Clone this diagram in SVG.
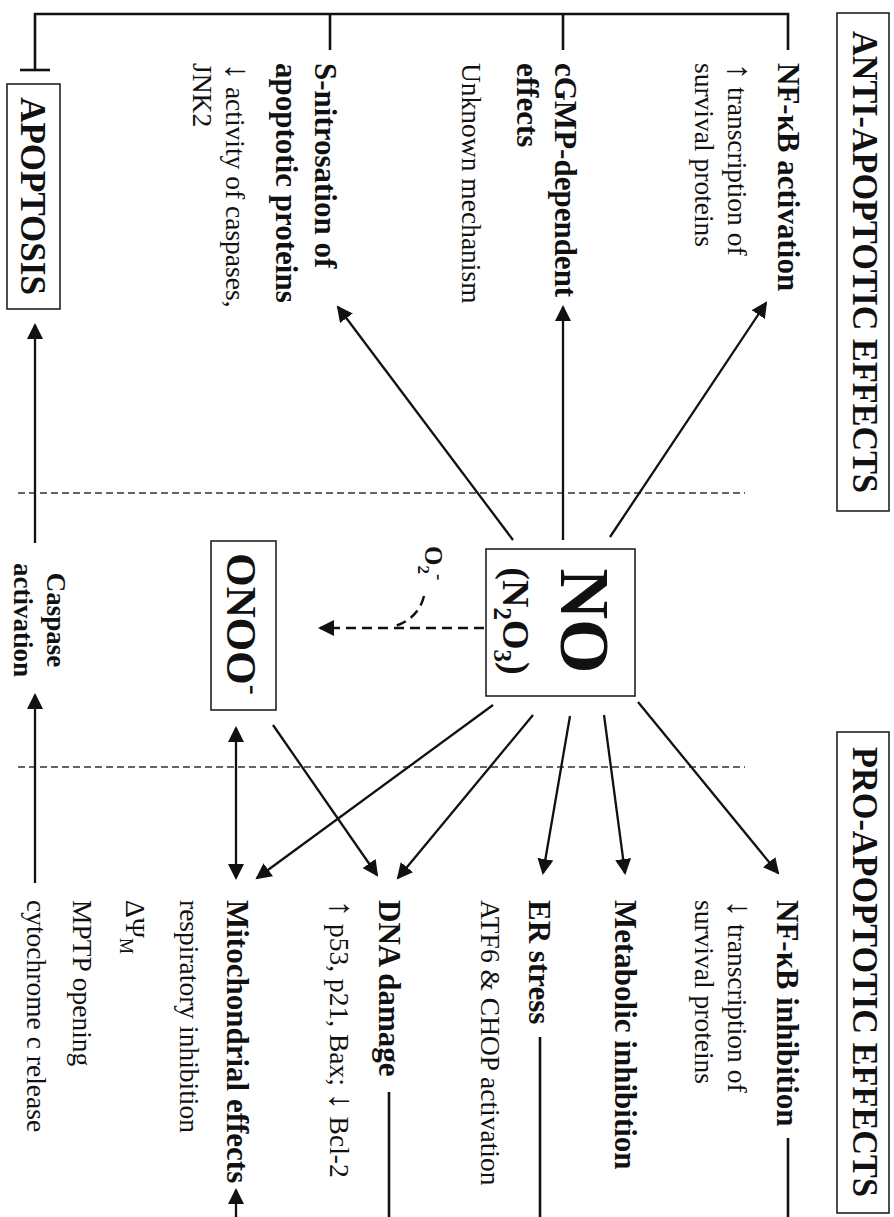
<svg xmlns="http://www.w3.org/2000/svg" width="894" height="1217" viewBox="0 0 894 1217">
<style>
text{font-family:"Liberation Serif","Times New Roman",serif;fill:#111}
.b{font-weight:bold;font-size:31px}
.r{font-size:27.5px}
.t{font-weight:bold;font-size:35px}
.ar{font-size:34px}
.box{fill:none;stroke:#222;stroke-width:1.6}
.ln{fill:none;stroke:#111;stroke-width:2.3}
.br{fill:none;stroke:#111;stroke-width:2.6}
.sep{fill:none;stroke:#333;stroke-width:1.5;stroke-dasharray:7 4}
.dash{fill:none;stroke:#111;stroke-width:2.5;stroke-dasharray:10 6}
</style>
<defs>
<marker id="ah" markerUnits="userSpaceOnUse" markerWidth="18" markerHeight="16" refX="14" refY="8" orient="auto-start-reverse"><path d="M0,0 L16,8 L0,16 z" fill="#111"/></marker>
</defs>
<rect width="894" height="1217" fill="#fff"/>

<g id="connectors">
<line class="sep" x1="18" y1="493" x2="745" y2="493"/>
<line class="sep" x1="18" y1="767" x2="745" y2="767"/>
<polyline class="br" points="788,50 788,14 35,14 35,70"/>
<line class="br" x1="20" y1="70" x2="50" y2="70"/>
<line class="br" x1="563" y1="14" x2="563" y2="50"/>
<line class="br" x1="330" y1="14" x2="330" y2="50"/>
<line class="br" x1="788" y1="1138" x2="788" y2="1217"/>
<line class="br" x1="540" y1="1037" x2="540" y2="1217"/>
<line class="br" x1="389" y1="1092" x2="389" y2="1217"/>
<line class="ln" x1="236" y1="1217" x2="236" y2="1190" marker-end="url(#ah)"/>
<line class="ln" x1="610" y1="537" x2="766" y2="303" marker-end="url(#ah)"/>
<line class="ln" x1="563" y1="540" x2="563" y2="307" marker-end="url(#ah)"/>
<line class="ln" x1="513" y1="540" x2="338" y2="307" marker-end="url(#ah)"/>
<line class="ln" x1="638" y1="702" x2="778" y2="873" marker-end="url(#ah)"/>
<line class="ln" x1="604" y1="715" x2="625" y2="873" marker-end="url(#ah)"/>
<line class="ln" x1="570" y1="716" x2="543" y2="873" marker-end="url(#ah)"/>
<line class="ln" x1="533" y1="715" x2="398" y2="878" marker-end="url(#ah)"/>
<line class="ln" x1="493" y1="705" x2="257" y2="878" marker-end="url(#ah)"/>
<line class="ln" x1="273" y1="725" x2="377" y2="875" marker-end="url(#ah)"/>
<line class="ln" x1="236" y1="728" x2="236" y2="878" marker-start="url(#ah)" marker-end="url(#ah)"/>
<line class="ln" x1="35" y1="543" x2="35" y2="325" marker-end="url(#ah)"/>
<line class="ln" x1="35" y1="883" x2="35" y2="695" marker-end="url(#ah)"/>
<line class="dash" x1="484" y1="628" x2="320" y2="628" marker-end="url(#ah)"/>
<path class="dash" d="M424,596 Q418,620 392,627" stroke-dasharray="8 6"/>
<text class="b" style="font-size:25px" x="425" y="546" transform="rotate(90 425 546)">O<tspan dy="7" font-size="17">2</tspan><tspan dy="-15" font-size="19">-</tspan></text>
</g>

<g id="anti-title">
<rect class="box" x="837" y="13" width="52" height="498"/>
<text class="t" x="853" y="262" text-anchor="middle" transform="rotate(90 853 262)" textLength="462" lengthAdjust="spacingAndGlyphs">ANTI-APOPTOTIC EFFECTS</text>
</g>
<g id="pro-title">
<rect class="box" x="837" y="732" width="52" height="481"/>
<text class="t" x="853" y="972" text-anchor="middle" transform="rotate(90 853 972)" textLength="450" lengthAdjust="spacingAndGlyphs">PRO-APOPTOTIC EFFECTS</text>
</g>

<g id="nfkb-activation">
<text class="b" x="778" y="63" transform="rotate(90 778 63)">NF-κB activation</text>
<text class="r" x="728" y="63" transform="rotate(90 728 63)"><tspan class="ar">↑</tspan> transcription of</text>
<text class="r" x="695" y="63" transform="rotate(90 695 63)">survival proteins</text>
</g>
<g id="cgmp">
<text class="b" x="555" y="63" transform="rotate(90 555 63)">cGMP-dependent</text>
<text class="b" x="517" y="63" transform="rotate(90 517 63)">effects</text>
<text class="r" x="462" y="63" transform="rotate(90 462 63)">Unknown mechanism</text>
</g>
<g id="s-nitrosation">
<text class="b" x="315" y="63" transform="rotate(90 315 63)">S-nitrosation of</text>
<text class="b" x="276" y="63" transform="rotate(90 276 63)">apoptotic proteins</text>
<text class="r" x="226" y="63" transform="rotate(90 226 63)"><tspan class="ar">↓</tspan> activity of caspases,</text>
<text class="r" x="193" y="63" transform="rotate(90 193 63)">JNK2</text>
</g>
<g id="apoptosis">
<rect class="box" x="7" y="84" width="53" height="225"/>
<text class="b" style="font-size:35px" x="21" y="196" text-anchor="middle" transform="rotate(90 21 196)">APOPTOSIS</text>
</g>
<g id="caspase">
<text class="b" style="font-size:27px" x="47" y="620" text-anchor="middle" transform="rotate(90 47 620)">Caspase</text>
<text class="b" style="font-size:27px" x="14" y="620" text-anchor="middle" transform="rotate(90 14 620)">activation</text>
</g>
<g id="onoo">
<rect class="box" x="211" y="541" width="65" height="169"/>
<text class="b" style="font-size:43px" x="227" y="624" text-anchor="middle" transform="rotate(90 227 624)">ONOO<tspan dy="-17" font-size="30">-</tspan></text>
</g>
<g id="no">
<rect class="box" x="486" y="549" width="149" height="147"/>
<text class="b" style="font-size:70px" x="561" y="621" text-anchor="middle" transform="rotate(90 561 621)">NO</text>
<text class="b" style="font-size:38px" x="503" y="621" text-anchor="middle" transform="rotate(90 503 621)">(N<tspan dy="9" font-size="25">2</tspan><tspan dy="-9">O</tspan><tspan dy="9" font-size="25">3</tspan><tspan dy="-9">)</tspan></text>
</g>

<g id="nfkb-inhibition">
<text class="b" x="777" y="900" transform="rotate(90 777 900)">NF-κB inhibition</text>
<text class="r" x="728" y="900" transform="rotate(90 728 900)"><tspan class="ar">↓</tspan> transcription of</text>
<text class="r" x="695" y="900" transform="rotate(90 695 900)">survival proteins</text>
</g>
<g id="metabolic">
<text class="b" x="615" y="900" transform="rotate(90 615 900)">Metabolic inhibition</text>
</g>
<g id="er-stress">
<text class="b" x="529" y="900" transform="rotate(90 529 900)">ER stress</text>
<text class="r" x="481" y="900" transform="rotate(90 481 900)">ATF6 &amp; CHOP activation</text>
</g>
<g id="dna-damage">
<text class="b" x="379" y="900" transform="rotate(90 379 900)">DNA damage</text>
<text class="r" x="330" y="900" transform="rotate(90 330 900)"><tspan class="ar">↑</tspan> p53, p21, Bax; <tspan class="ar">↓</tspan> Bcl-2</text>
</g>
<g id="mitochondrial">
<text class="b" x="227" y="900" transform="rotate(90 227 900)">Mitochondrial effects</text>
<text class="r" x="180" y="900" transform="rotate(90 180 900)">respiratory inhibition</text>
<text class="r" x="126" y="900" transform="rotate(90 126 900)">ΔΨ<tspan dy="6" font-size="18">M</tspan></text>
<text class="r" x="73" y="900" transform="rotate(90 73 900)">MPTP opening</text>
<text class="r" x="27" y="900" transform="rotate(90 27 900)">cytochrome c release</text>
</g>
</svg>
